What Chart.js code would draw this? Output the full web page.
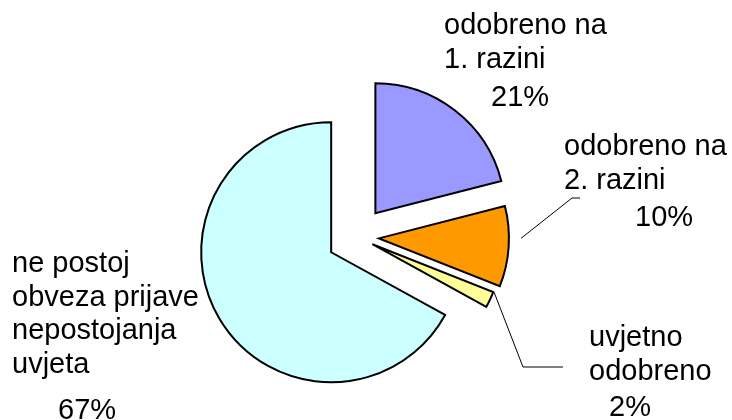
<!DOCTYPE html>
<html>
<head>
<meta charset="utf-8">
<script src="https://cdn.jsdelivr.net/npm/chart.js@4.4.1/dist/chart.umd.min.js"></script>
<style>
  html, body { margin: 0; padding: 0; background: #fff; }
  #wrap { width: 732px; height: 420px; }
</style>
</head>
<body>
<div id="wrap"><canvas id="pie"></canvas></div>
<script>
const categories = [
  ['odobreno na', '1. razini'],
  ['odobreno na', '2. razini'],
  ['uvjetno', 'odobreno'],
  ['ne postoj', 'obveza prijave', 'nepostojanja', 'uvjeta'],
];
const shares = [21, 10, 2, 67];
const sliceColors = ['#9999FF', '#FF9900', '#FFFF99', '#CCFFFF'];

// how far each slice is pulled out (chart.js moves an arc by offset / 4 px)
const sliceOffsets = [120, 88, 68, 120];
const PIE_RADIUS = 130;

// where the text of each label goes: first line + percent line (baselines)
const labelLayout = [
  { x: 444, y: 34, pctX: 491, pctY: 106 },
  { x: 564, y: 155, pctX: 635, pctY: 226 },
  { x: 589, y: 346, pctX: 609, pctY: 416 },
  { x: 12, y: 272, pctX: 58, pctY: 419 },
];
const LINE_H = 33.5;

// leader lines, only for the two small slices on the right
// frac = where along the slice edge the line starts (0 = start of arc)
const leaders = [
  null,
  { frac: 0.4, gap: 12, elbow: [572, 198], end: [580, 198] },
  { frac: 0, gap: 1, elbow: [523, 367], end: [563, 367] },
  null,
];

// chart.js makes a pulled-out arc bigger by offset/4 * (1 - sin(angle)) and
// trims its ends a bit; undo both so every slice keeps radius and angle
const sameRadius = {
  id: 'sameRadius',
  afterDatasetUpdate(chart) {
    chart.getDatasetMeta(0).data.forEach((arc, i) => {
      const grow = (sliceOffsets[i] / 4) * (1 - Math.sin(Math.min(Math.PI, arc.circumference)));
      arc.outerRadius = PIE_RADIUS - grow;
      const trim = grow / (Math.PI * PIE_RADIUS);
      arc.startAngle -= trim / 2;
      arc.endAngle += trim / 2;
    });
  },
};

const sliceLabels = {
  id: 'sliceLabels',
  afterDatasetsDraw(chart) {
    const { ctx } = chart;
    const arcs = chart.getDatasetMeta(0).data;
    ctx.save();
    ctx.font = '29px "Liberation Sans", Arial, sans-serif';
    ctx.fillStyle = '#000';
    ctx.strokeStyle = '#000';
    ctx.lineWidth = 1;
    ctx.textBaseline = 'alphabetic';
    labelLayout.forEach((pos, i) => {
      categories[i].forEach((line, k) => ctx.fillText(line, pos.x, pos.y + k * LINE_H));
      ctx.fillText(shares[i] + '%', pos.pctX, pos.pctY);

      const lead = leaders[i];
      if (!lead) return;
      const arc = arcs[i];
      const mid = (arc.startAngle + arc.endAngle) / 2;
      const start = mid - arc.circumference / 2;
      const shift = sliceOffsets[i] / 4;
      const a = start + arc.circumference * lead.frac;
      const r = PIE_RADIUS + lead.gap;
      const sx = arc.x + Math.cos(mid) * shift + Math.cos(a) * r;
      const sy = arc.y + Math.sin(mid) * shift + Math.sin(a) * r;
      ctx.beginPath();
      ctx.moveTo(sx, sy);
      ctx.lineTo(lead.elbow[0], lead.elbow[1]);
      ctx.lineTo(lead.end[0], lead.end[1]);
      ctx.stroke();
    });
    ctx.restore();
  },
};

new Chart(document.getElementById('pie'), {
  type: 'pie',
  data: {
    labels: categories,
    datasets: [{
      data: shares,
      backgroundColor: sliceColors,
      borderColor: '#000',
      borderWidth: 2,
      borderJoinStyle: 'miter',
      offset: sliceOffsets,
      radius: PIE_RADIUS,
    }],
  },
  options: {
    responsive: true,
    maintainAspectRatio: false,
    animation: false,
    events: [],
    layout: { padding: { left: 0, right: 18, top: 54, bottom: 0 } },
    plugins: {
      legend: { display: false },
      tooltip: { enabled: false },
    },
  },
  plugins: [sameRadius, sliceLabels],
});
</script>
</body>
</html>
